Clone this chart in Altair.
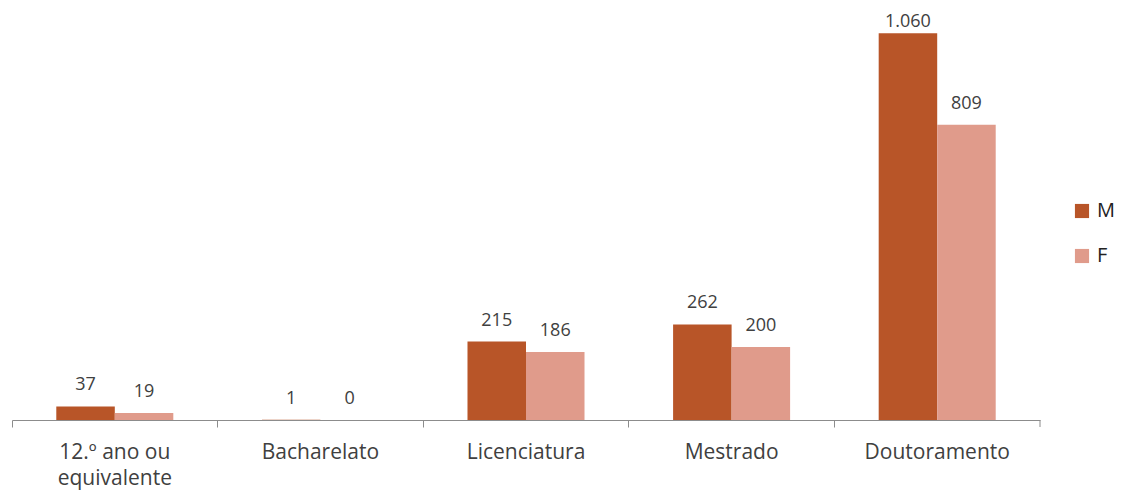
import altair as alt
import pandas as pd

categories = ["12.º ano ou equivalente", "Bacharelato", "Licenciatura", "Mestrado", "Doutoramento"]
series = ["M", "F"]
values_m = [37, 1, 215, 262, 1060]
values_f = [19, 0, 186, 200, 809]
colors = ["#B85528", "#E09B8B"]

rows = []
for c, m, f in zip(categories, values_m, values_f):
    rows.append({"cat": c, "sexo": "M", "v": m})
    rows.append({"cat": c, "sexo": "F", "v": f})
df = pd.DataFrame(rows)

FONT = "Open Sans"
TXT = "#404040"

x = alt.X("cat:N", sort=categories, title=None,
          scale=alt.Scale(paddingInner=0, paddingOuter=0),
          axis=alt.Axis(bandPosition=0, labelAngle=0, labelFontSize=21, labelFont=FONT,
                        labelColor=TXT, labelPadding=14, labelLineHeight=26,
                        labelExpr="split(replace(datum.label, ' equivalente', '|equivalente'), '|')",
                        domainColor="#8C8C8C", tickColor="#8C8C8C", tickSize=7,
                        labelBaseline="top", grid=False))
xo = alt.XOffset("sexo:N", sort=series, scale=alt.Scale(paddingInner=0, paddingOuter=0.757))
y = alt.Y("v:Q", scale=alt.Scale(domain=[0, 1096], nice=False), axis=None)

base = alt.Chart(df).encode(x=x, xOffset=xo)

bars = base.mark_bar().encode(
    y=y,
    color=alt.Color("sexo:N", sort=series,
                    scale=alt.Scale(domain=series, range=colors),
                    legend=alt.Legend(title=None, orient="none", legendX=1060, legendY=181,
                                      symbolType="square", symbolSize=200, symbolStrokeWidth=0,
                                      labelFontSize=20, labelFont=FONT, labelColor="#222222",
                                      rowPadding=25, labelOffset=5, padding=0)),
)

fmt = "replace(format(datum.v, ','), ',', '.')"
labels = base.mark_text(baseline="bottom", dy=-12, fontSize=18, font=FONT, color=TXT).transform_calculate(
    lbl=fmt
).transform_filter("datum.v < 1000").encode(y=y, text="lbl:N")
labels_top = base.mark_text(baseline="bottom", dy=-2, fontSize=18, font=FONT, color=TXT).transform_calculate(
    lbl=fmt
).transform_filter("datum.v >= 1000").encode(y=y, text="lbl:N")

endtick = alt.Chart(pd.DataFrame({"t": [0]})).mark_rule(color="#8C8C8C").encode(
    x=alt.value(1028), y=alt.value(400), y2=alt.value(407))

chart = alt.layer(bars, labels, labels_top, endtick).properties(
    width=1028, height=400,
    autosize=alt.AutoSizeParams(type="none"),
    padding={"left": 4, "top": 12, "right": 74, "bottom": 70},
).configure_view(stroke=None).configure_axis(domainWidth=1)

chart.save("out.html", embed_options={"renderer": "svg", "actions": False})
